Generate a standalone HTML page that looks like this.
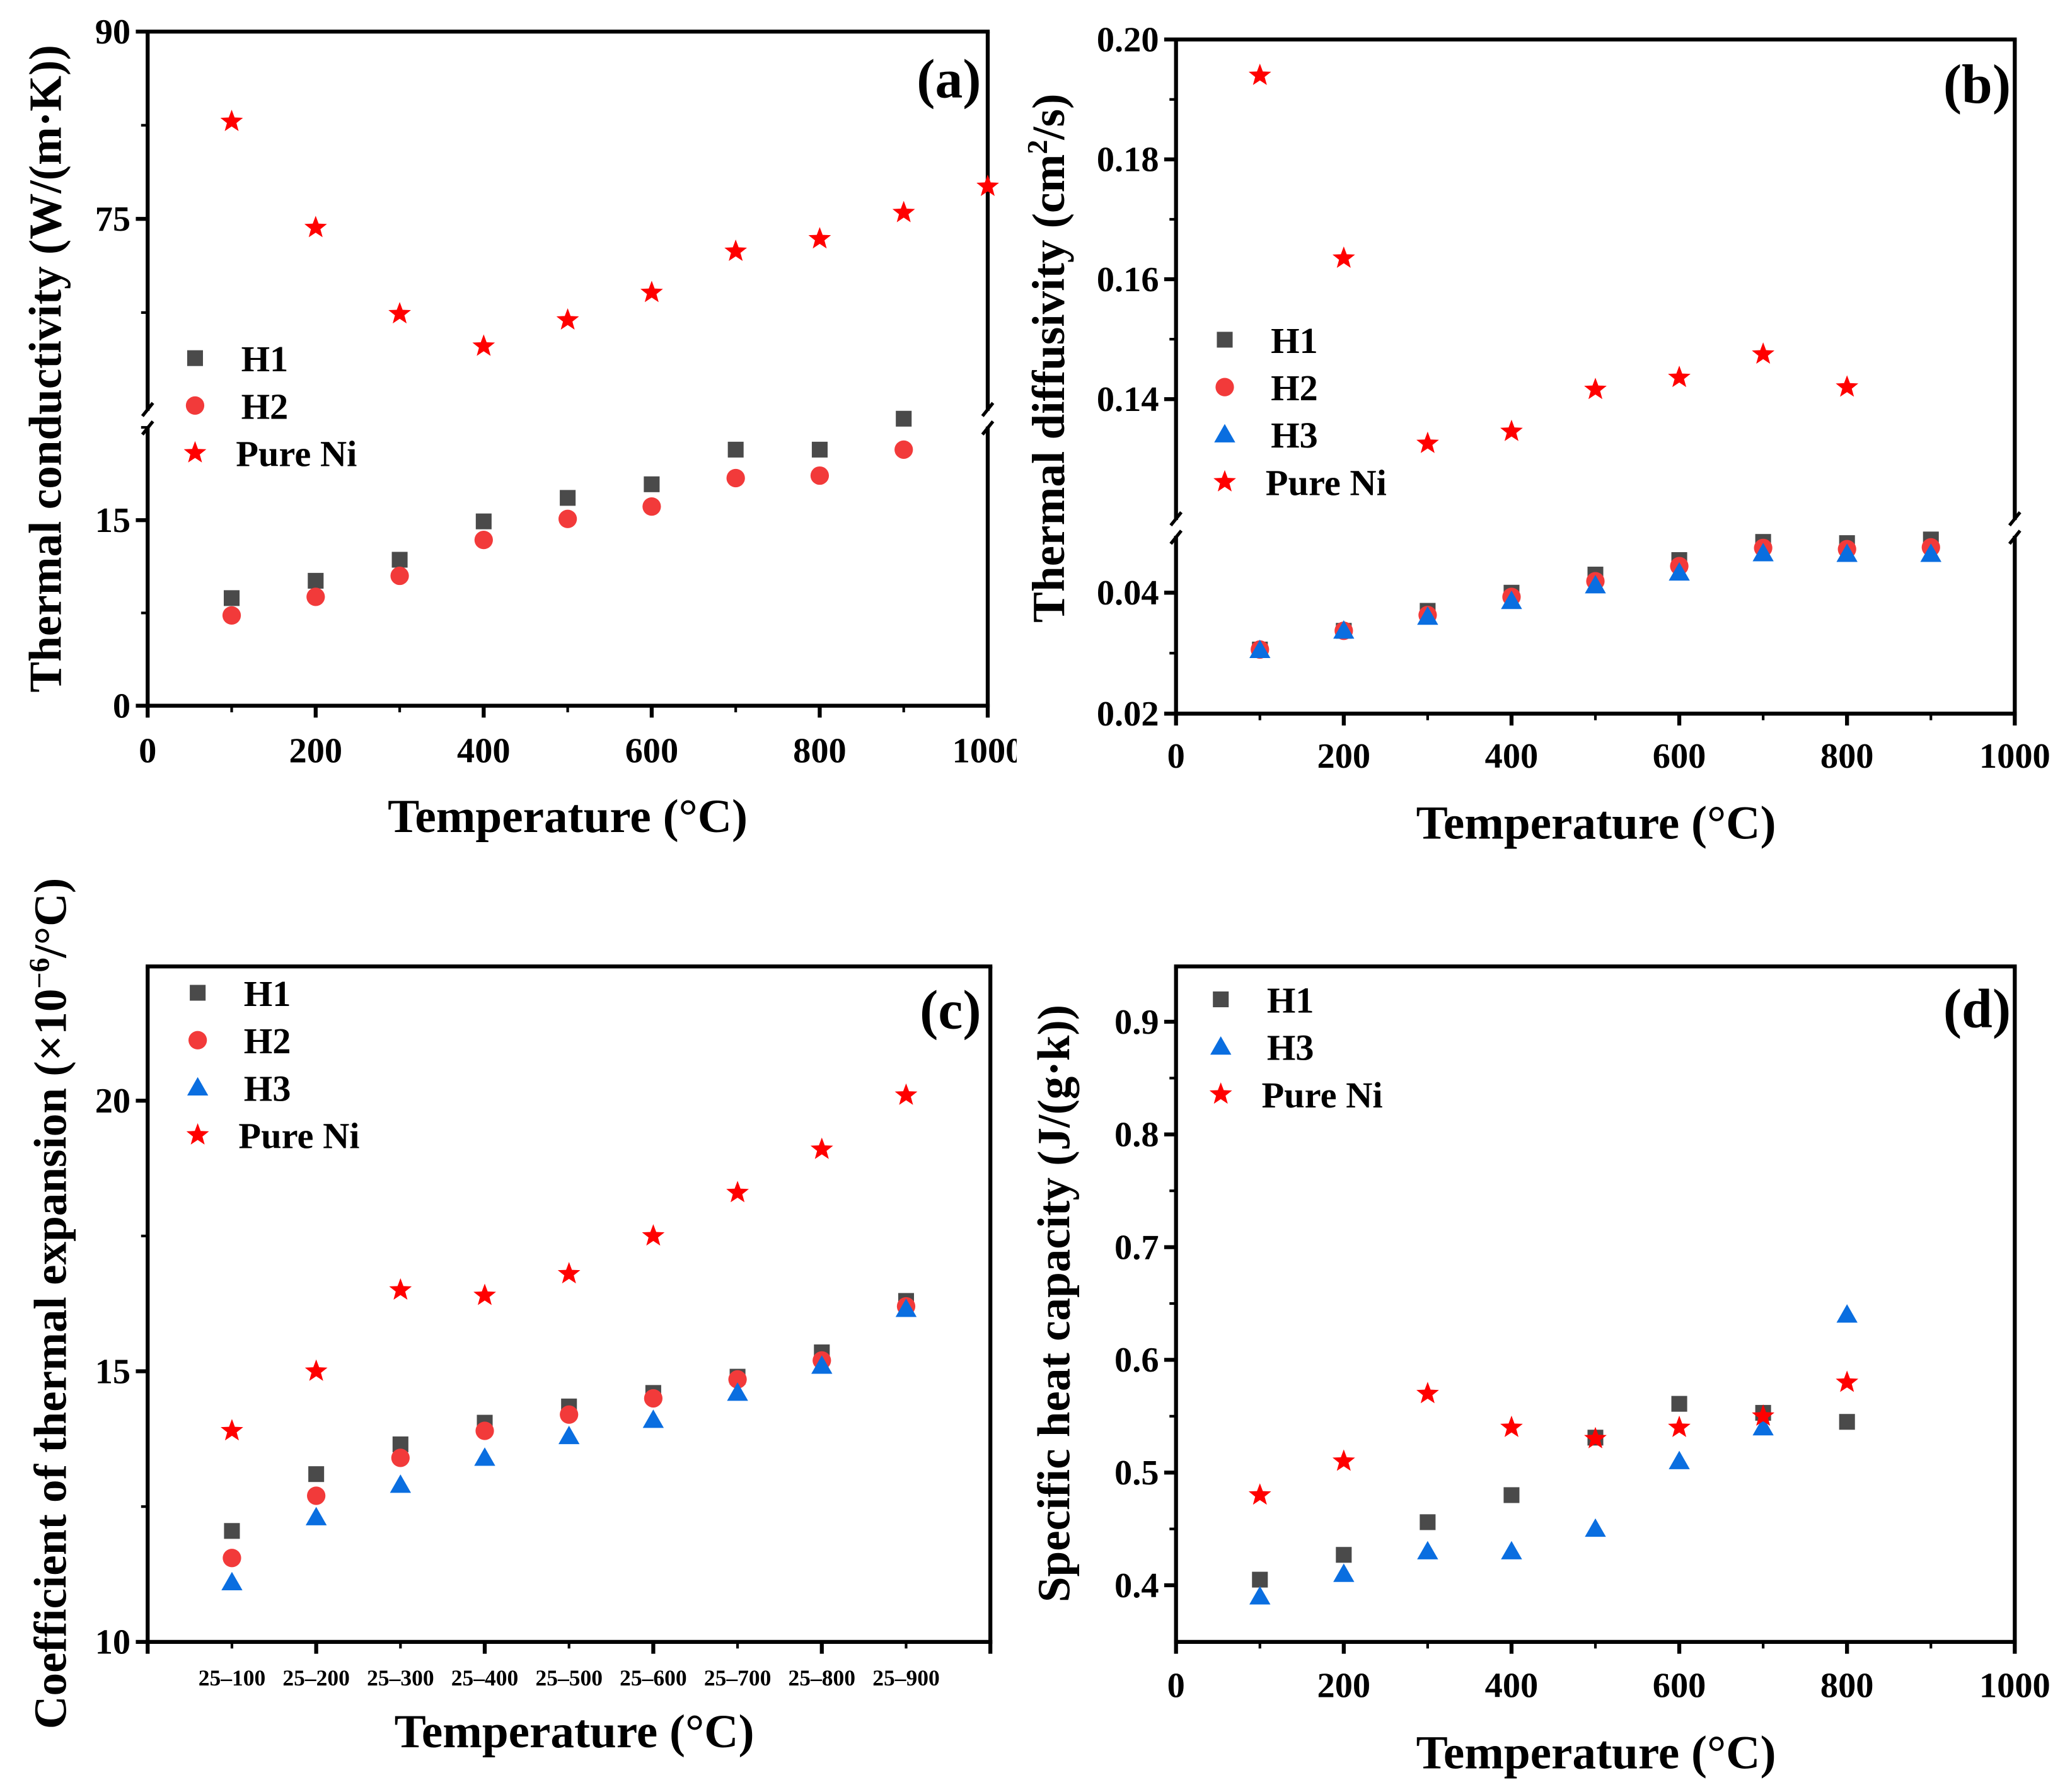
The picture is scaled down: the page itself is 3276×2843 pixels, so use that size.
<!DOCTYPE html>
<html><head><meta charset="utf-8"><style>
html,body{margin:0;padding:0;background:#fff;}
svg{display:block;font-family:"Liberation Serif",serif;font-weight:bold;}
</style></head><body>
<svg id="fig" width="3276" height="2843" viewBox="0 0 1568 1361" xmlns="http://www.w3.org/2000/svg"></svg>
<script>
// ---- data ----
const tempsA = [100,200,300,400,500,600,700,800,900];
const aH1 = [8.7,10.1,11.8,14.9,16.8,17.9,20.7,20.7,23.2];
const aH2 = [7.3,8.8,10.5,13.4,15.1,16.1,18.4,18.6,20.7];
const tempsANi = [100,200,300,400,500,600,700,800,900,1000];
const aNi = [82.8,74.3,67.4,64.8,66.9,69.1,72.4,73.4,75.5,77.6];

const tempsB = [100,200,300,400,500,600,700,800,900];
const bH1 = [0.0306,0.0337,0.0370,0.0400,0.0430,0.0454,0.0484,0.0482,0.0488];
const bH2 = [0.0306,0.0337,0.0363,0.0393,0.0419,0.0444,0.0474,0.0472,0.0475];
const bH3 = [0.0305,0.0337,0.0360,0.0386,0.0412,0.0433,0.0465,0.0464,0.0464];
const tempsBNi = [100,200,300,400,500,600,700,800];
const bNi = [0.194,0.1635,0.1326,0.1346,0.1416,0.1436,0.1475,0.142];

const catsC = ["25–100","25–200","25–300","25–400","25–500","25–600","25–700","25–800","25–900"];
const cH1 = [12.05,13.1,13.65,14.05,14.35,14.6,14.9,15.35,16.3];
const cH2 = [11.55,12.7,13.4,13.9,14.2,14.5,14.85,15.2,16.2];
const cH3 = [11.1,12.3,12.9,13.4,13.8,14.1,14.6,15.1,16.15];
const cNi = [13.9,15.0,16.5,16.4,16.8,17.5,18.3,19.1,20.1];

const tempsD = [100,200,300,400,500,600,700,800];
const dH1 = [0.405,0.427,0.456,0.48,0.531,0.561,0.553,0.545];
const dH3 = [0.39,0.41,0.43,0.43,0.45,0.51,0.54,0.64];
const dNi = [0.48,0.51,0.57,0.54,0.53,0.54,0.55,0.58];

const ticksTemp = [0,200,400,600,800,1000];
const ticksA = [0,15,75,90];
const ticksB = [0.02,0.04,0.14,0.16,0.18,0.20];
const ticksC = [10,15,20];
const ticksD = [0.4,0.5,0.6,0.7,0.8,0.9];

// ---- helpers ----
const NS="http://www.w3.org/2000/svg";
const svg=document.getElementById('fig');
function mk(tag,attrs,parent,txt){const e=document.createElementNS(NS,tag);for(const k in attrs)e.setAttribute(k,attrs[k]);if(txt!==undefined)e.textContent=txt;(parent||svg).appendChild(e);return e;}
function lin(d0,d1,r0,r1){return v=>r0+(v-d0)*(r1-r0)/(d1-d0);}
function broken(lo,hi,brk){return v=>v<=lo[1]?lin(lo[0],lo[1],lo[2],brk)(v):lin(hi[0],hi[1],brk,hi[2])(v);}
const COL={H1:"#4a4a4a",H2:"#f23a3a",H3:"#0a6ee0",Ni:"#ff0000"};
function starPath(cx,cy,r){let p="";for(let i=0;i<10;i++){const rr=i%2?r*0.42:r;const a=-Math.PI/2+i*Math.PI/5;p+=(i?"L":"M")+(cx+rr*Math.cos(a)).toFixed(2)+","+(cy+rr*Math.sin(a)).toFixed(2);}return p+"Z";}
function marker(g,type,x,y){
  if(type==="H1") return mk('rect',{x:x-6,y:y-6,width:12,height:12,fill:COL.H1},g);
  if(type==="H2") return mk('circle',{cx:x,cy:y,r:7,fill:COL.H2},g);
  if(type==="H3") return mk('path',{d:`M${x},${y-8}L${x+8},${y+6}L${x-8},${y+6}Z`,fill:COL.H3},g);
  return mk('path',{d:starPath(x,y,9),fill:COL.Ni},g);
}
function series(g,name,type,xs,ys,X,Y){
  const sg=mk('g',{},g);
  
  
  xs.forEach((xv,i)=>{const m=marker(sg,type,X(xv),Y(ys[i]));
    
    });
}
function legend(g,x,y0,items){
  const lg=mk('g',{},g);
  
  
  items.forEach((it,i)=>{const y=y0+i*36;const e=mk('g',{},lg);
    
    
    marker(e,it[0],x,y);
    mk('text',{x:x+(it[1]==="Pure Ni"?31:35),y:y+10,'font-size':28},e,it[1]);});
}
function frame(g,L,R,T,B,brkY){
  const sw=3;
  mk('line',{x1:L-1.5,y1:T,x2:R+1.5,y2:T,stroke:"#000","stroke-width":sw},g);
  mk('line',{x1:L-1.5,y1:B,x2:R+1.5,y2:B,stroke:"#000","stroke-width":sw},g);
  if(brkY===undefined){
    mk('line',{x1:L,y1:T,x2:L,y2:B,stroke:"#000","stroke-width":sw},g);
    mk('line',{x1:R,y1:T,x2:R,y2:B,stroke:"#000","stroke-width":sw},g);
  } else {
    [L,R].forEach(x=>{
      mk('line',{x1:x,y1:T,x2:x,y2:brkY-6,stroke:"#000","stroke-width":sw},g);
      mk('line',{x1:x,y1:brkY+6,x2:x,y2:B,stroke:"#000","stroke-width":sw},g);
      mk('path',{d:`M${x-4},${brkY-2}L${x+4},${brkY-12}M${x-4},${brkY+12}L${x+4},${brkY+2}`,stroke:"#000","stroke-width":2.5,fill:"none"},g);
    });
  }
}
function xTicks(g,vals,X,B,labY,fs,labels){
  vals.forEach((v,i)=>{const x=X(v);
    mk('line',{x1:x,y1:B,x2:x,y2:B+9,stroke:"#000","stroke-width":3},g);
    if(labels!==false) mk('text',{x:x,y:labY,'font-size':fs,'text-anchor':'middle'},g,String(v));
  });
}
function minorX(g,vals,X,B){vals.forEach(v=>mk('line',{x1:X(v),y1:B,x2:X(v),y2:B+5,stroke:"#000","stroke-width":2},g));}
function yTicks(g,vals,Y,L,fs,fmt){
  vals.forEach(v=>{const y=Y(v);
    mk('line',{x1:L-9,y1:y,x2:L,y2:y,stroke:"#000","stroke-width":3},g);
    mk('text',{x:L-13,y:y+9,'font-size':fs,'text-anchor':'end'},g,fmt?fmt(v):String(v));
  });
}
function minorY(g,vals,Y,L){vals.forEach(v=>mk('line',{x1:L-5,y1:Y(v),x2:L,y2:Y(v),stroke:"#000","stroke-width":2},g));}
function ytitle(g,x,y,content){const t=mk('text',{x:0,y:0,'font-size':35,'text-anchor':'middle',transform:`translate(${x},${y}) rotate(-90)`},g);t.innerHTML=content;return t;}
function xtitle(g,x,y,s){const t=mk('text',{x:x,y:y,'font-size':36,'text-anchor':'middle'},g,s);}
function plabel(g,x,y,s){const t=mk('text',{x:x,y:y,'font-size':42,'text-anchor':'end'},g,s);}
function panel(name){const g=mk('g',{});return g;}

// ---- panel a ----
{const g=panel('panel-a-thermal-conductivity');
 const L=112,R=750,T=24,B=536,brk=318;
 const X=lin(0,1000,L,R);const Y=broken([0,23.2,B],[59,90,T],brk);
 frame(g,L,R,T,B,brk);
 minorX(g,[100,300,500,700,900],X,B);
 xTicks(g,ticksTemp,X,B,579,27);
 yTicks(g,ticksA,Y,L,27);
 minorY(g,[7.5,22.5,67.5,82.5],Y,L);
 series(g,'series-h1','H1',tempsA,aH1,X,Y);
 series(g,'series-h2','H2',tempsA,aH2,X,Y);
 series(g,'series-pure-ni','Ni',tempsANi,aNi,X,Y);
 legend(g,148,272,[["H1","H1"],["H2","H2"],["Ni","Pure Ni"]]);
 plabel(g,745,74,"(a)");
 ytitle(g,46,280,'Thermal conductivity (W/(m·K))');
 xtitle(g,431,632,'Temperature (°C)');
 mk('rect',{x:772,y:540,width:40,height:50,fill:"#fff"},g);
}
// ---- panel b ----
{const g=panel('panel-b-thermal-diffusivity');
 const L=893,R=1530,T=30,B=542,brk=401;
 const X=lin(0,1000,L,R);const Y=broken([0.02,0.0507,B],[0.1185,0.20,T],brk);
 frame(g,L,R,T,B,brk);
 minorX(g,[100,300,500,700,900],X,B);
 xTicks(g,ticksTemp,X,B,583,27);
 yTicks(g,ticksB,Y,L,27,v=>v.toFixed(2));
 minorY(g,[0.03,0.15,0.17,0.19],Y,L);
 series(g,'series-h1','H1',tempsB,bH1,X,Y);
 series(g,'series-h2','H2',tempsB,bH2,X,Y);
 series(g,'series-h3','H3',tempsB,bH3,X,Y);
 series(g,'series-pure-ni','Ni',tempsBNi,bNi,X,Y);
 legend(g,930,258,[["H1","H1"],["H2","H2"],["H3","H3"],["Ni","Pure Ni"]]);
 plabel(g,1527,78,"(b)");
 ytitle(g,808,272,'Thermal diffusivity (cm<tspan font-size="22" dy="-13">2</tspan><tspan dy="13">/s)</tspan>');
 xtitle(g,1212,637,'Temperature (°C)');
}
// ---- panel c ----
{const g=panel('panel-c-thermal-expansion');
 const L=112,R=752,T=734,B=1247;
 const X=lin(0,10,L,R);const Y=lin(10,22.48,B,T);
 frame(g,L,R,T,B);
 xTicks(g,[0,2,4,6,8,10],X,B,0,1,false);
 minorX(g,[1,3,5,7,9],X,B);
 catsC.forEach((c,i)=>{const t=mk('text',{x:X(i+1),y:1280,'font-size':17,'text-anchor':'middle'},g,c);});
 const idx=catsC.map((c,i)=>i+1);
 yTicks(g,ticksC,Y,L,27);
 minorY(g,[12.5,17.5],Y,L);
 series(g,'series-h1','H1',idx,cH1,X,Y);
 series(g,'series-h2','H2',idx,cH2,X,Y);
 series(g,'series-h3','H3',idx,cH3,X,Y);
 series(g,'series-pure-ni','Ni',idx,cNi,X,Y);
 legend(g,150,754,[["H1","H1"],["H2","H2"],["H3","H3"],["Ni","Pure Ni"]]);
 plabel(g,745,781,"(c)");
 ytitle(g,50,990,'Coefficient of thermal expansion (×10<tspan font-size="22" dy="-13">−6</tspan><tspan dy="13">/°C)</tspan>');
 xtitle(g,436,1327,'Temperature (°C)');
}
// ---- panel d ----
{const g=panel('panel-d-specific-heat');
 const L=893,R=1530,T=734,B=1247;
 const X=lin(0,1000,L,R);const Y=lin(0.4,0.9,1204,776);
 frame(g,L,R,T,B);
 minorX(g,[100,300,500,700,900],X,B);
 xTicks(g,ticksTemp,X,B,1289,27);
 yTicks(g,ticksD,Y,L,27,v=>v.toFixed(1));
 minorY(g,[0.45,0.55,0.65,0.75,0.85],Y,L);
 series(g,'series-h1','H1',tempsD,dH1,X,Y);
 series(g,'series-h3','H3',tempsD,dH3,X,Y);
 series(g,'series-pure-ni','Ni',tempsD,dNi,X,Y);
 legend(g,927,759,[["H1","H1"],["H3","H3"],["Ni","Pure Ni"]]);
 plabel(g,1527,780,"(d)");
 ytitle(g,812,990,'Specific heat capacity (J/(g·k))');
 xtitle(g,1212,1343,'Temperature (°C)');
}
</script>
</body></html>
